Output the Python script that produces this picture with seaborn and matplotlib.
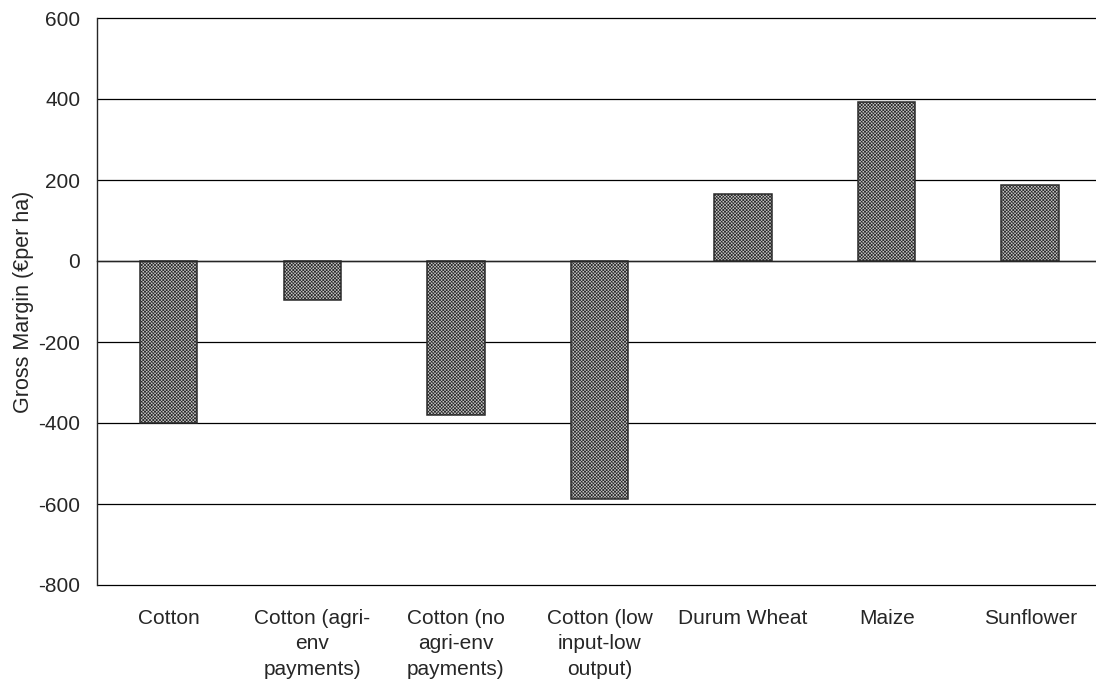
import matplotlib
matplotlib.use("Agg")
import matplotlib.pyplot as plt
import seaborn as sns
import numpy as np

# Gross margin per crop (€ per ha)
categories = [
    "Cotton",
    "Cotton (agri-\nenv\npayments)",
    "Cotton (no\nagri-env\npayments)",
    "Cotton (low\ninput-low\noutput)",
    "Durum Wheat",
    "Maize",
    "Sunflower",
]
gross_margin = [-401, -96, -380, -588, 165, 393, 188]
y_ticks = [-800, -600, -400, -200, 0, 200, 400, 600]

sns.set_style("white")
plt.rcParams["font.family"] = ["Liberation Sans", "DejaVu Sans"]
plt.rcParams["hatch.linewidth"] = 0.5
plt.rcParams["hatch.color"] = "#969696"

FS = 15

fig = plt.figure(figsize=(10.96, 6.88), dpi=100)
ax = fig.add_axes([97 / 1096, 1 - 585 / 688, (1102 - 97) / 1096, (585 - 18) / 688])

sns.barplot(x=list(range(len(categories))), y=gross_margin, color="#c6c6c6",
            width=0.4, saturation=1, ax=ax, zorder=3)
for p in ax.patches:
    p.set_edgecolor("#2a2a2a")
    p.set_linewidth(1.1)
    p.set_hatch("xxxxxxxxxx")

ax.set_xlim(-0.5, len(categories) - 0.5)
ax.set_ylim(-800, 600)
ax.set_yticks(y_ticks)
ax.set_yticklabels([str(v) for v in y_ticks], fontsize=FS)
ax.yaxis.grid(True, color="black", linewidth=0.9, zorder=0)
for gl in ax.get_ygridlines():
    gl.set_clip_on(False)
ax.set_axisbelow(True)

# category axis crosses at zero, with ticks between categories
for side in ("top", "right"):
    ax.spines[side].set_visible(False)
ax.spines["bottom"].set_position(("data", 0))
ax.spines["bottom"].set_linewidth(1.0)
ax.spines["bottom"].set_zorder(4)
ax.spines["left"].set_linewidth(1.0)
ax.set_xticks(np.arange(-0.5, len(categories), 1.0))
ax.set_xticklabels([])
ax.tick_params(axis="x", direction="out", length=4.5, width=1, color="black")
ax.tick_params(axis="y", direction="out", length=4.5, width=1, color="black", pad=7.5)

# category labels sit below the plot area
sec = ax.secondary_xaxis("bottom")
sec.spines["bottom"].set_visible(False)
sec.set_xticks(range(len(categories)))
sec.set_xticklabels(categories, fontsize=FS, linespacing=1.45)
sec.tick_params(length=0, pad=17)

ax.set_xlabel("")
ax.set_ylabel("Gross Margin (€per ha)", fontsize=15.5, labelpad=3)

fig.savefig("out.png", dpi=100)
